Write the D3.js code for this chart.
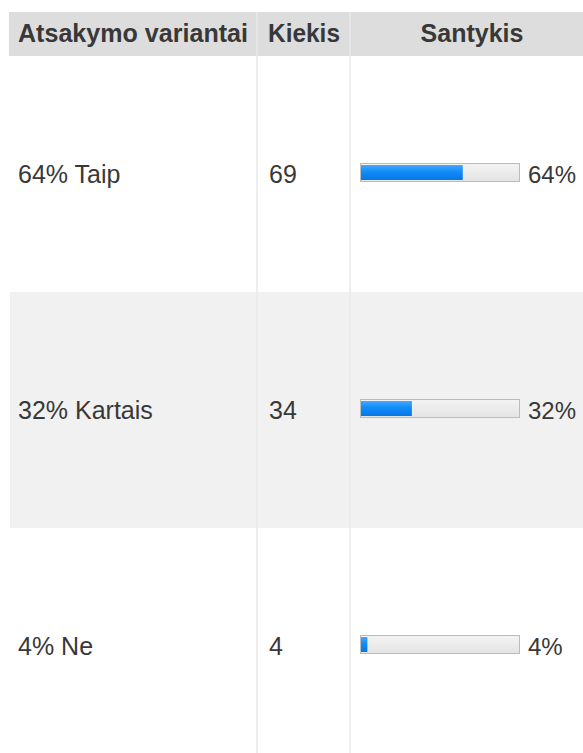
<!DOCTYPE html>
<html>
<head>
<meta charset="utf-8">
<script src="https://cdn.jsdelivr.net/npm/d3@7"></script>
<style>
  html, body { margin: 0; padding: 0; background: #fff; overflow: hidden; }
  svg { display: block; }
  text { font-family: "Liberation Sans", Arial, sans-serif; }
</style>
</head>
<body>
<svg id="chart" width="583" height="753"></svg>
<script>
// ---- data ----
const headers = ["Atsakymo variantai", "Kiekis", "Santykis"];
const answers = ["Taip", "Kartais", "Ne"];
const counts = [69, 34, 4];
const percents = [64, 32, 4];

// ---- layout ----
const W = 583, H = 753;
const tableLeft = 9, tableRight = 600;
const headTop = 12, headBottom = 56;
const rowHeight = 236;
const colX = [tableLeft, 257, 350, tableRight];

const svg = d3.select("#chart");
const defs = svg.append("defs");

const gBlue = defs.append("linearGradient").attr("id", "blue").attr("x1", 0).attr("y1", 0).attr("x2", 0).attr("y2", 1);
gBlue.append("stop").attr("offset", "0%").attr("stop-color", "#45a8ff");
gBlue.append("stop").attr("offset", "45%").attr("stop-color", "#108cf8");
gBlue.append("stop").attr("offset", "100%").attr("stop-color", "#0678e6");

const gTrack = defs.append("linearGradient").attr("id", "track").attr("x1", 0).attr("y1", 0).attr("x2", 0).attr("y2", 1);
gTrack.append("stop").attr("offset", "0%").attr("stop-color", "#f3f3f3");
gTrack.append("stop").attr("offset", "100%").attr("stop-color", "#e4e4e4");

const rows = answers.map((a, i) => ({ answer: a, count: counts[i], pct: percents[i] }));

const y = d3.scaleBand()
  .domain(answers)
  .range([headBottom, headBottom + rowHeight * answers.length])
  .paddingInner(0).paddingOuter(0);

const barX0 = 360, barOuterW = 160, barH = 19;
const xBar = d3.scaleLinear().domain([0, 100]).range([0, barOuterW - 1]);

// header band
svg.append("rect")
  .attr("x", tableLeft).attr("y", headTop)
  .attr("width", tableRight - tableLeft).attr("height", headBottom - headTop)
  .attr("fill", "#dddddd");

// row backgrounds
svg.selectAll("rect.rowbg").data(rows).join("rect")
  .attr("class", "rowbg")
  .attr("x", tableLeft + 1)
  .attr("y", d => y(d.answer))
  .attr("width", tableRight - tableLeft)
  .attr("height", y.bandwidth())
  .attr("fill", (d, i) => i % 2 === 1 ? "#f1f1f1" : "#ffffff");

// column dividers
svg.selectAll("line.div").data([colX[1], colX[2]]).join("line")
  .attr("class", "div")
  .attr("x1", d => d).attr("x2", d => d)
  .attr("y1", headTop).attr("y2", H)
  .attr("stroke", "#e8e8e8").attr("stroke-width", 1.5);

// header text
const hs = 25;
svg.append("text").attr("x", 18).attr("y", 42)
  .attr("font-size", hs).attr("font-weight", "bold").attr("fill", "#383838")
  .attr("textLength", 230).attr("lengthAdjust", "spacingAndGlyphs")
  .text(headers[0]);
svg.append("text").attr("x", 268).attr("y", 42)
  .attr("font-size", hs).attr("font-weight", "bold").attr("fill", "#383838")
  .attr("textLength", 72).attr("lengthAdjust", "spacingAndGlyphs")
  .text(headers[1]);
svg.append("text").attr("x", 472).attr("y", 42).attr("text-anchor", "middle")
  .attr("font-size", hs).attr("font-weight", "bold").attr("fill", "#383838")
  .text(headers[2]);

const g = svg.selectAll("g.row").data(rows).join("g")
  .attr("class", "row")
  .attr("transform", d => `translate(0,${y(d.answer) + y.bandwidth() / 2})`);

g.append("text").attr("x", 18).attr("y", 9)
  .attr("font-size", 25).attr("fill", "#383838")
  .text(d => `${d.pct}% ${d.answer}`);

g.append("text").attr("x", 269).attr("y", 9)
  .attr("font-size", 25).attr("fill", "#383838")
  .text(d => d.count);

// bar track
g.append("rect")
  .attr("x", barX0 + 0.5).attr("y", -11 + 0.5)
  .attr("width", barOuterW - 1).attr("height", barH - 1)
  .attr("fill", "url(#track)")
  .attr("stroke", "#bcbcbc").attr("stroke-width", 1);

// bar fill
g.append("rect")
  .attr("x", barX0 + 1).attr("y", -10 + 1)
  .attr("width", d => xBar(d.pct)).attr("height", barH - 4)
  .attr("fill", "url(#blue)");

g.append("text").attr("x", 528).attr("y", 9)
  .attr("font-size", 24).attr("fill", "#383838")
  .text(d => `${d.pct}%`);
</script>
</body>
</html>
